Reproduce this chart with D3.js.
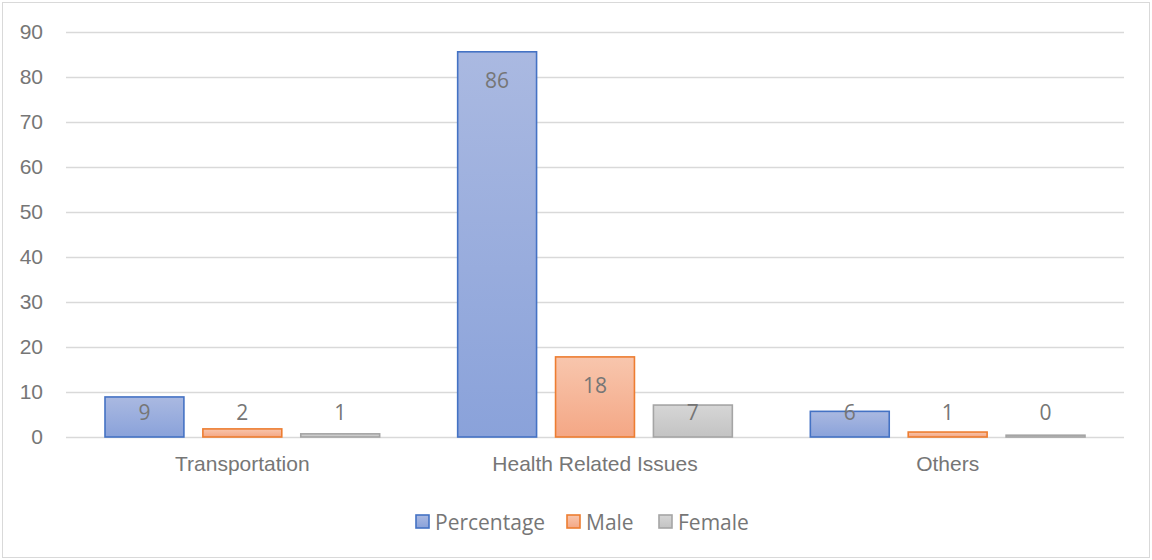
<!DOCTYPE html>
<html>
<head>
<meta charset="utf-8">
<script src="https://cdn.jsdelivr.net/npm/d3@7"></script>
<style>
  html, body { margin: 0; padding: 0; background: #ffffff; }
  svg { display: block; font-family: "Open Sans", "Noto Sans", sans-serif; }
</style>
</head>
<body>
<svg id="chart" width="1152" height="560"></svg>
<script>
// Reasons, by category, with the three plotted series
const categories = ["Transportation", "Health Related Issues", "Others"];
const seriesNames = ["Percentage", "Male", "Female"];
const percentageValues = [8.9, 85.6, 5.7];
const maleValues = [1.8, 17.8, 1.1];
const femaleValues = [0.7, 7.1, 0.4];
const yTicks = [0, 10, 20, 30, 40, 50, 60, 70, 80, 90];

const seriesValues = [percentageValues, maleValues, femaleValues];
const seriesStyle = [
  { top: "#aab9e1", bottom: "#8aa2da", stroke: "#4472c4" },
  { top: "#f8c6ad", bottom: "#f4a785", stroke: "#ed7d31" },
  { top: "#d6d6d6", bottom: "#c3c3c3", stroke: "#a5a5a5" }
];

const svg = d3.select("#chart");
const W = 1152, H = 560;
const textColor = "#767676";
const gridColor = "#d9d9d9";
const fontSize = 21;

// Chart frame
svg.append("rect")
  .attr("x", 2.5).attr("y", 2.5)
  .attr("width", W - 5).attr("height", H - 5)
  .attr("fill", "#ffffff").attr("stroke", "#d9d9d9").attr("stroke-width", 1);

const plot = { left: 66, right: 1124, top: 32, bottom: 437 };

// Gradient fills for bars
const defs = svg.append("defs");
seriesStyle.forEach((s, i) => {
  const g = defs.append("linearGradient")
    .attr("id", "grad" + i)
    .attr("x1", 0).attr("y1", 0).attr("x2", 0).attr("y2", 1);
  g.append("stop").attr("offset", "0%").attr("stop-color", s.top);
  g.append("stop").attr("offset", "100%").attr("stop-color", s.bottom);
});

const y = d3.scaleLinear().domain([0, 90]).range([plot.bottom, plot.top]);
const x0 = d3.scaleBand().domain(categories).range([plot.left, plot.right]).padding(0);
const outer = 39;
const x1 = d3.scaleBand().domain(seriesNames)
  .range([outer, x0.bandwidth() - outer])
  .paddingInner(19 / 98).paddingOuter(0);

// Gridlines and value axis labels
const yAxis = d3.axisLeft(y).tickValues(yTicks)
  .tickSize(-(plot.right - plot.left)).tickPadding(23).tickFormat(d3.format("d"));
const gy = svg.append("g")
  .attr("transform", `translate(${plot.left},0)`)
  .call(yAxis);
gy.select(".domain").remove();
gy.selectAll(".tick line").attr("stroke", gridColor).attr("stroke-width", 1.3);
gy.selectAll(".tick text")
  .attr("fill", textColor).attr("font-size", fontSize).style("font-family", "inherit");

// Category axis labels
const xAxis = d3.axisBottom(x0).tickSize(0).tickPadding(19);
const gx = svg.append("g")
  .attr("transform", `translate(0,${plot.bottom})`)
  .call(xAxis);
gx.select(".domain").remove();
gx.selectAll(".tick text")
  .attr("fill", textColor).attr("font-size", fontSize).style("font-family", "inherit");

// Bars
const groups = svg.append("g").selectAll("g")
  .data(categories)
  .join("g")
  .attr("transform", d => `translate(${x0(d)},0)`);

const fmt = d3.format(".0f");
groups.each(function (cat, ci) {
  const g = d3.select(this);
  const rows = seriesNames.map((s, si) => ({ s, si, v: seriesValues[si][ci] }));
  g.selectAll("rect")
    .data(rows)
    .join("rect")
    .attr("x", d => x1(d.s))
    .attr("y", d => y(d.v))
    .attr("width", x1.bandwidth())
    .attr("height", d => y(0) - y(d.v))
    .attr("fill", d => `url(#grad${d.si})`)
    .attr("stroke", d => seriesStyle[d.si].stroke)
    .attr("stroke-width", 1.6);

  g.selectAll("text")
    .data(rows)
    .join("text")
    .attr("x", d => x1(d.s) + x1.bandwidth() / 2)
    .attr("y", d => Math.min(y(d.v) + 28, y(0) - 25))
    .attr("text-anchor", "middle")
    .attr("dominant-baseline", "central")
    .attr("fill", textColor)
    .attr("font-size", fontSize)
    .text(d => fmt(d.v));
});

// Legend
const legendItems = [
  { name: "Percentage", x: 416 },
  { name: "Male", x: 567 },
  { name: "Female", x: 659 }
];
const lg = svg.append("g").selectAll("g")
  .data(legendItems)
  .join("g")
  .attr("transform", d => `translate(${d.x},515)`);
lg.append("rect")
  .attr("width", 13).attr("height", 13)
  .attr("fill", (d, i) => `url(#grad${i})`)
  .attr("stroke", (d, i) => seriesStyle[i].stroke)
  .attr("stroke-width", 1.6);
lg.append("text")
  .attr("x", 19).attr("y", 7)
  .attr("dominant-baseline", "central")
  .attr("fill", textColor)
  .attr("font-size", fontSize)
  .text(d => d.name);
</script>
</body>
</html>
